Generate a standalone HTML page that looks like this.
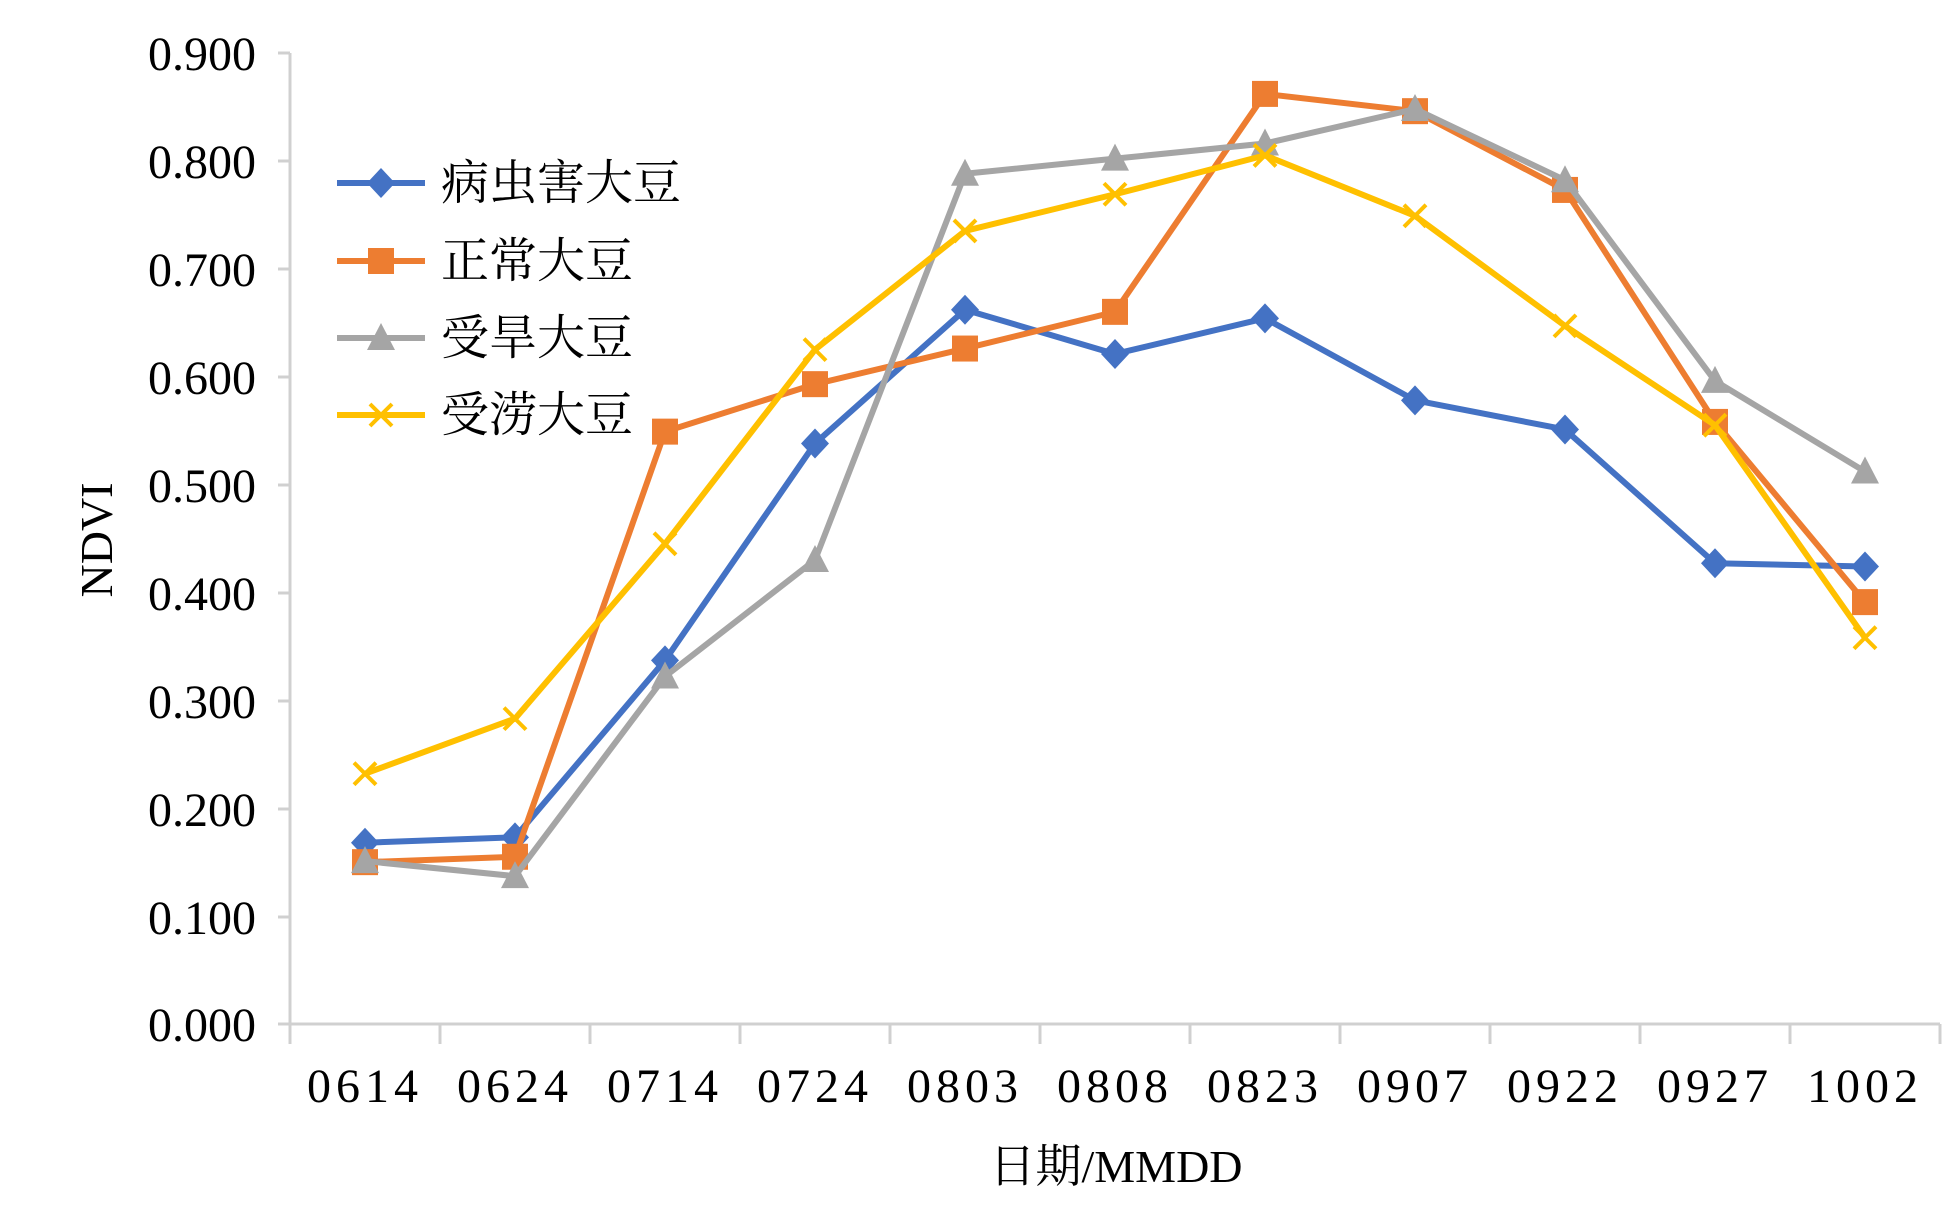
<!DOCTYPE html>
<html><head><meta charset="utf-8"><style>body{margin:0;background:#fff}svg{display:block}</style></head>
<body>
<svg width="1960" height="1220" viewBox="0 0 1960 1220" xmlns="http://www.w3.org/2000/svg" font-family="Liberation Serif, Noto Serif CJK SC, serif">
<rect width="1960" height="1220" fill="#fff"/>
<g stroke="#d0d0d0" stroke-width="3" fill="none">
<path d="M290 53V1024H1940"/>
<path d="M278 53H290M278 161H290M278 269H290M278 377H290M278 485H290M278 593H290M278 701H290M278 809H290M278 917H290M278 1024H290"/>
<path d="M290 1024v20M440 1024v20M590 1024v20M740 1024v20M890 1024v20M1040 1024v20M1190 1024v20M1340 1024v20M1490 1024v20M1640 1024v20M1790 1024v20M1940 1024v20"/>
</g>
<g font-size="48" text-anchor="end" fill="#000">
<text x="256" y="70">0.900</text><text x="256" y="178">0.800</text><text x="256" y="286">0.700</text><text x="256" y="394">0.600</text><text x="256" y="502">0.500</text><text x="256" y="610">0.400</text><text x="256" y="718">0.300</text><text x="256" y="826">0.200</text><text x="256" y="934">0.100</text><text x="256" y="1041">0.000</text>
</g>
<g font-size="48" text-anchor="middle" fill="#000" letter-spacing="5">
<text x="365" y="1102">0614</text><text x="515" y="1102">0624</text><text x="665" y="1102">0714</text><text x="815" y="1102">0724</text><text x="965" y="1102">0803</text><text x="1115" y="1102">0808</text><text x="1265" y="1102">0823</text><text x="1415" y="1102">0907</text><text x="1565" y="1102">0922</text><text x="1715" y="1102">0927</text><text x="1865" y="1102">1002</text>
</g>
<text x="1116" y="1182" font-size="46" text-anchor="middle">日期/MMDD</text>
<text transform="translate(112,540) rotate(-90)" font-size="46" text-anchor="middle">NDVI</text>
<g id="plot"></g>
<g font-size="48" font-family="Noto Serif CJK SC, serif" fill="#000">
<text x="441" y="199">病虫害大豆</text><text x="441" y="277">正常大豆</text><text x="441" y="354">受旱大豆</text><text x="441" y="431">受涝大豆</text>
</g>
<script>
var d=[["#4472c4",[.168,.173,.337,.538,.662,.621,.654,.578,.551,.427,.424],"d",183],
["#ed7d31",[.150,.155,.549,.593,.626,.660,.862,.846,.773,.558,.391],"s",261],
["#a5a5a5",[.151,.137,.322,.430,.788,.802,.816,.848,.782,.596,.512],"t",338],
["#ffc000",[.232,.283,.445,.625,.735,.769,.805,.749,.647,.555,.358],"x",415]];
var ns="http://www.w3.org/2000/svg",g=document.getElementById("plot");
function el(t,a){var e=document.createElementNS(ns,t);for(var k in a)e.setAttribute(k,a[k]);g.appendChild(e);return e;}
function mk(m,c,x,y){
if(m=="d")el("path",{d:"M"+x+" "+(y-15)+"L"+(x+14)+" "+y+"L"+x+" "+(y+15)+"L"+(x-14)+" "+y+"Z",fill:c});
if(m=="s")el("rect",{x:x-13,y:y-13,width:26,height:26,fill:c});
if(m=="t")el("path",{d:"M"+x+" "+(y-15)+"L"+(x+14)+" "+(y+12)+"L"+(x-14)+" "+(y+12)+"Z",fill:c});
if(m=="x")el("path",{d:"M"+(x-11)+" "+(y-11)+"L"+(x+11)+" "+(y+11)+"M"+(x+11)+" "+(y-11)+"L"+(x-11)+" "+(y+11),stroke:c,"stroke-width":4,fill:"none"});
}
d.forEach(function(s){
var p=s[1].map(function(v,i){return [365+150*i,1024-v*1079];});
el("polyline",{points:p.map(function(q){return q.join(",")}).join(" "),fill:"none",stroke:s[0],"stroke-width":6,"stroke-linejoin":"round"});
p.forEach(function(q){mk(s[2],s[0],q[0],q[1]);});
el("line",{x1:337,y1:s[3],x2:425,y2:s[3],stroke:s[0],"stroke-width":6});
mk(s[2],s[0],381,s[3]);
});
</script>
</svg>
</body></html>
